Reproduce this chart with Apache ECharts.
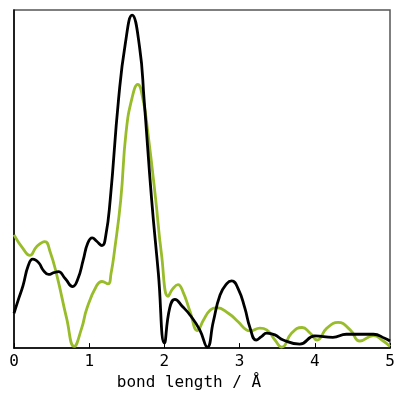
<!DOCTYPE html>
<html>
<head>
<meta charset="utf-8">
<script src="https://cdn.jsdelivr.net/npm/echarts@6/dist/echarts.min.js"></script>
<style>html,body{margin:0;padding:0;background:#fff}#c{width:399px;height:396px}</style>
</head>
<body>
<div id="c"></div>
<script>
const xTicks = [0, 1, 2, 3, 4, 5];
const blackX = [0, 0.06, 0.12, 0.19, 0.25, 0.33, 0.39, 0.46, 0.53, 0.59, 0.68, 0.78, 0.85, 0.92, 0.98, 1.04, 1.1, 1.17, 1.22, 1.28, 1.39, 1.48, 1.57, 1.67, 1.73, 1.83, 1.92, 2.0, 2.07, 2.14, 2.24, 2.34, 2.47, 2.57, 2.65, 2.74, 2.83, 2.895, 2.98, 3.07, 3.14, 3.22, 3.29, 3.36, 3.47, 3.58, 3.8, 4.0, 4.24, 4.42, 4.78, 4.93, 5.0];
const blackY = [10.3, 14.5, 18.5, 24.4, 26.3, 25.2, 23.0, 21.8, 22.3, 22.6, 20.6, 18.2, 20.5, 26.0, 31.0, 32.6, 31.6, 30.3, 33.2, 44, 73.5, 90, 98.5, 89, 73.5, 44, 22, 1.5, 11.8, 14.4, 12.3, 9.8, 5.4, 0.3, 7.8, 15.7, 19.1, 19.9, 17.6, 11.8, 5.9, 2.4, 3.4, 4.4, 3.9, 2.4, 1.2, 3.6, 3.2, 4.1, 4.1, 2.9, 2.1];
const greenX = [0, 0.12, 0.21, 0.3, 0.41, 0.48, 0.57, 0.7, 0.8, 0.9, 0.97, 1.1, 1.17, 1.25, 1.29, 1.34, 1.42, 1.49, 1.57, 1.645, 1.72, 1.78, 1.884, 1.96, 2.05, 2.11, 2.18, 2.25, 2.34, 2.44, 2.52, 2.61, 2.695, 2.85, 2.98, 3.09, 3.14, 3.27, 3.36, 3.47, 3.56, 3.69, 3.83, 3.94, 4.03, 4.16, 4.31, 4.47, 4.6, 4.78, 4.91, 5.0];
const greenY = [33.5, 29.4, 27.4, 30.0, 31.5, 28.5, 21.5, 8.8, 0.5, 5.9, 11.8, 18.5, 19.7, 19.0, 22.0, 29.4, 44, 63.8, 74, 78, 73, 63.8, 44, 28, 15.3, 17.5, 18.8, 16.5, 10.9, 5.2, 8.3, 11.3, 12.0, 10.3, 7.8, 5.4, 5.1, 5.9, 5.4, 2.4, 0.3, 4.4, 6.1, 4.4, 2.4, 5.9, 7.6, 5.4, 2.1, 3.7, 2.1, 0.5];

const chart = echarts.init(document.getElementById('c'), null, {renderer: 'canvas'});
const font = '"DejaVu Sans Mono", monospace';
chart.setOption({
  animation: false,
  grid: {left: 14, right: 9, top: 10, bottom: 46, show: true, borderColor: '#555', borderWidth: 1.5},
  xAxis: {
    type: 'value', min: 0, max: 5, interval: 1,
    name: 'bond length / Å', nameLocation: 'middle', nameGap: 22,
    nameTextStyle: {fontFamily: font, fontSize: 16, color: '#000', padding: [0, 26, 0, 0]},
    axisLine: {lineStyle: {color: '#000', width: 1.5}},
    axisTick: {inside: true, length: 5, lineStyle: {color: '#000'}},
    axisLabel: {fontFamily: font, fontSize: 16, color: '#000', margin: 6,
      formatter: v => xTicks.includes(v) ? String(v) : ''},
    splitLine: {show: false}
  },
  yAxis: {
    type: 'value', min: 0, max: 100,
    axisLine: {show: true, lineStyle: {color: '#000', width: 1.5}},
    axisTick: {show: false}, axisLabel: {show: false}, splitLine: {show: false}
  },
  series: [
    {type: 'line', data: greenX.map((x, i) => [x, greenY[i]]), smooth: 0.5, showSymbol: false,
     lineStyle: {color: '#98bc2a', width: 2.8}},
    {type: 'line', data: blackX.map((x, i) => [x, blackY[i]]), smooth: 0.5, showSymbol: false,
     lineStyle: {color: '#000', width: 2.8}}
  ]
});
</script>
</body>
</html>
